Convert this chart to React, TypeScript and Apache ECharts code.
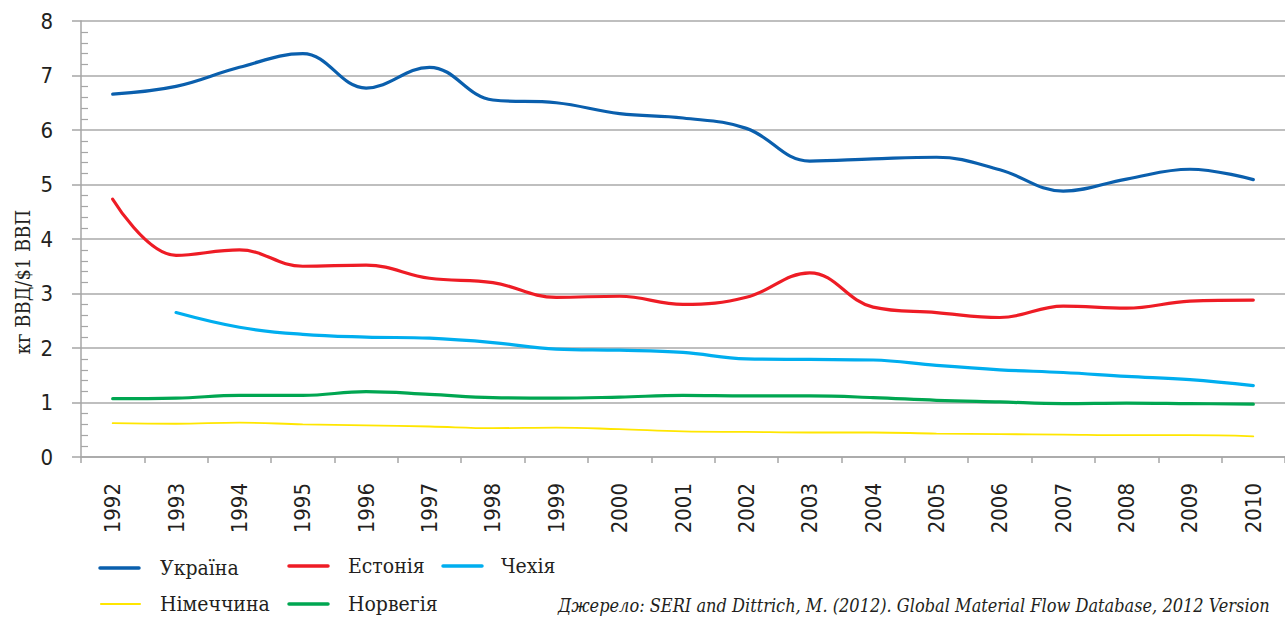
import React, { useEffect, useRef } from "react";
import * as echarts from "echarts";

const years = ["1992","1993","1994","1995","1996","1997","1998","1999","2000","2001","2002","2003","2004","2005","2006","2007","2008","2009","2010"];
const ukraine = [6.66, 6.8, 7.15, 7.4, 6.77, 7.15, 6.55, 6.5, 6.3, 6.22, 6.03, 5.43, 5.47, 5.5, 5.27, 4.88, 5.1, 5.28, 5.09];
const estonia = [4.73, 3.7, 3.8, 3.5, 3.52, 3.28, 3.2, 2.93, 2.95, 2.8, 2.93, 3.38, 2.75, 2.65, 2.56, 2.77, 2.73, 2.86, 2.88];
const czechia = [null, 2.65, 2.38, 2.25, 2.2, 2.18, 2.1, 1.98, 1.96, 1.92, 1.8, 1.79, 1.78, 1.68, 1.6, 1.55, 1.48, 1.42, 1.31];
const germany = [0.62, 0.61, 0.63, 0.6, 0.58, 0.56, 0.53, 0.54, 0.51, 0.47, 0.46, 0.45, 0.45, 0.43, 0.42, 0.41, 0.4, 0.4, 0.38];
const norway = [1.07, 1.08, 1.13, 1.13, 1.2, 1.15, 1.09, 1.08, 1.1, 1.13, 1.12, 1.12, 1.09, 1.04, 1.01, 0.98, 0.99, 0.98, 0.97];

const seriesNames = ["Україна", "Естонія", "Чехія", "Німеччина", "Норвегія"];
const seriesData = [ukraine, estonia, czechia, germany, norway];
const seriesColors = ["#0a5fad", "#ee1c25", "#00aeef", "#ffe600", "#00a651"];
const seriesWidths = [3.2, 3.2, 3.2, 1.8, 3.2];

const yAxisTitle = "кг ВВД/$1 ВВП";
const sourceText = "Джерело: SERI and Dittrich, M. (2012). Global Material Flow Database, 2012 Version";

// legend layout: [lineX, textX, y]
const legendPos = [
  [100, 160, 568],
  [289, 348, 566],
  [443, 501, 566],
  [101, 160, 604],
  [289, 348, 604],
];

const NARROW = '"Liberation Sans Narrow", "Arial Narrow", "DejaVu Sans Condensed", sans-serif';
const SLAB = '"DejaVu Serif Condensed", "DejaVu Serif", serif';

export default function App() {
  const ref = useRef<HTMLDivElement>(null);
  useEffect(() => {
    if (!ref.current) return;
    const chart = echarts.init(ref.current, null, { renderer: "svg" });
    const graphics: any[] = [];
    seriesNames.forEach((name, i) => {
      const [lx, tx, y] = legendPos[i];
      graphics.push({
        type: "line",
        shape: { x1: lx, y1: y, x2: lx + 39, y2: y },
        style: { stroke: seriesColors[i], lineWidth: seriesWidths[i] + 0.3, lineCap: "round" },
      });
      graphics.push({
        type: "text",
        x: tx,
        y: y,
        style: { text: name, font: `21px ${SLAB}`, fill: "#231f20", verticalAlign: "middle" },
      });
    });
    graphics.push({
      type: "text",
      x: 23,
      y: 282,
      rotation: Math.PI / 2,
      style: { text: yAxisTitle, font: `20px ${SLAB}`, fill: "#231f20", align: "center", verticalAlign: "middle" },
    });
    graphics.push({
      type: "text",
      x: 558,
      y: 605,
      style: { text: sourceText, font: `italic 18px ${SLAB}`, fill: "#231f20", verticalAlign: "middle" },
    });

    chart.setOption({
      animation: false,
      grid: { left: 81, top: 21, width: 1206, bottom: 160, containLabel: false },
      xAxis: {
        type: "category",
        data: years,
        boundaryGap: true,
        axisLine: { lineStyle: { color: "#a6a6a6", width: 1.5 } },
        axisTick: { show: true, length: 6, alignWithLabel: false, lineStyle: { color: "#a6a6a6", width: 1.5 } },
        axisLabel: { rotate: 90, margin: 26, fontSize: 22, fontFamily: NARROW, color: "#231f20", interval: 0 },
        splitLine: { show: false },
      },
      yAxis: {
        type: "value",
        min: 0,
        max: 8,
        interval: 1,
        axisLine: { show: true, lineStyle: { color: "#a6a6a6", width: 1.5 } },
        axisTick: { show: true, inside: true, length: -9, lineStyle: { color: "#a6a6a6", width: 1.5 } },
        minorTick: { show: true, splitNumber: 5, length: 7, lineStyle: { color: "#a6a6a6", width: 1.2 } },
        axisLabel: { margin: 28, fontSize: 22, fontFamily: NARROW, color: "#231f20" },
        splitLine: { show: true, lineStyle: { color: "#aaaaaa", width: 1.5 } },
      },
      series: seriesNames.map((name, i) => ({
        name,
        type: "line",
        data: seriesData[i],
        smooth: 0.4,
        showSymbol: false,
        symbol: "none",
        lineStyle: { color: seriesColors[i], width: seriesWidths[i], cap: "round" },
        itemStyle: { color: seriesColors[i] },
        z: 10 - i,
      })),
      graphic: graphics,
    });
    return () => chart.dispose();
  }, []);
  return <div ref={ref} style={{ width: 1285, height: 617, position: "absolute", left: 0, top: 0 }} />;
}
